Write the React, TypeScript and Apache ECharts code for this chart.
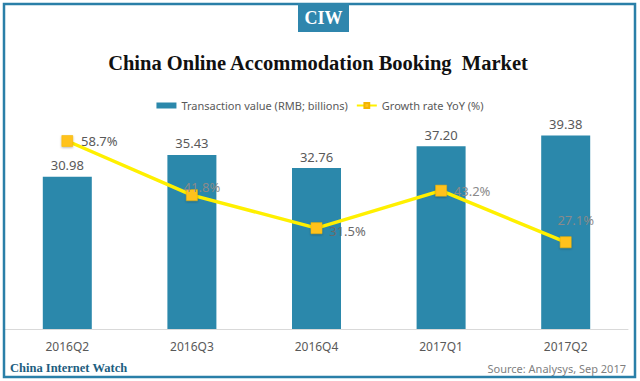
import React, { useEffect, useRef } from "react";
import * as echarts from "echarts";

const categories = ["2016Q2", "2016Q3", "2016Q4", "2017Q1", "2017Q2"];
const transactionValues = [30.98, 35.43, 32.76, 37.2, 39.38];
const growthRates = [58.7, 41.8, 31.5, 43.2, 27.1];
const growthLabelOffsets: [number, number][] = [
  [32, 0],
  [10, -8],
  [31, 3],
  [31, 0],
  [10, -22],
];
const growthLabelColors = ["#595959", "#8a8a8a", "#6a6a6a", "#8a8a8a", "#8a8a8a"];

const TITLE = "China Online Accommodation Booking  Market";
const BAR_NAME = "Transaction value (RMB; billions)";
const LINE_NAME = "Growth rate YoY (%)";

export default function App() {
  const ref = useRef<HTMLDivElement>(null);
  useEffect(() => {
    if (!ref.current) return;
    const chart = echarts.init(ref.current, null, { renderer: "svg" });
    const sans = "'Noto Sans', 'DejaVu Sans', sans-serif";
    const serif = "'Liberation Serif', 'DejaVu Serif', serif";
    chart.setOption({
      animation: false,
      backgroundColor: "#ffffff",
      textStyle: { fontFamily: sans },
      legend: {
        top: 95,
        left: "center",
        itemGap: 8,
        itemWidth: 20,
        itemHeight: 6,
        textStyle: { color: "#595959", fontSize: 11, fontFamily: sans },
        data: [
          { name: BAR_NAME, icon: "rect" },
          { name: LINE_NAME },
        ],
      },
      grid: { left: 5, right: 12, top: 108, bottom: 52, containLabel: false },
      xAxis: {
        type: "category",
        data: categories,
        axisLine: { lineStyle: { color: "#d9d9d9", width: 1 } },
        axisTick: { show: false },
        axisLabel: { color: "#595959", fontSize: 12, margin: 11, fontFamily: sans },
      },
      yAxis: [
        { type: "value", min: 0, max: 45, show: false, splitLine: { show: false } },
        { type: "value", min: 0, max: 69, show: false, splitLine: { show: false } },
      ],
      series: [
        {
          name: BAR_NAME,
          type: "bar",
          yAxisIndex: 0,
          data: transactionValues,
          barWidth: 49,
          itemStyle: { color: "#2b88ab" },
          label: {
            show: true,
            position: "top",
            distance: 5,
            color: "#595959",
            fontSize: 13,
            fontFamily: sans,
            formatter: (p: any) => p.value.toFixed(2),
          },
        },
        {
          name: LINE_NAME,
          type: "line",
          yAxisIndex: 1,
          data: growthRates.map((v, i) => ({
            value: v,
            label: {
              show: true,
              position: "inside",
              offset: growthLabelOffsets[i],
              color: growthLabelColors[i],
              fontSize: 13,
              fontFamily: sans,
              formatter: (p: any) => p.value.toFixed(1) + "%",
            },
          })),
          symbol: "rect",
          symbolSize: 11,
          lineStyle: { color: "#fff000", width: 3.5 },
          itemStyle: {
            color: "#ffc21a",
            borderColor: "#f2b400",
            borderWidth: 0.5,
            shadowColor: "rgba(0,0,0,0.3)",
            shadowBlur: 2,
            shadowOffsetY: 1,
          },
          emphasis: { disabled: true },
          z: 5,
        },
      ],
      graphic: [
        {
          type: "rect",
          shape: { x: 4, y: 4, width: 631, height: 373 },
          style: { fill: "none", stroke: "#2a7fa8", lineWidth: 2.5 },
          z: 10,
        },
        {
          type: "rect",
          shape: { x: 298, y: 3, width: 51, height: 29 },
          style: { fill: "#2f86ad" },
          z: 11,
        },
        {
          type: "text",
          x: 323.5,
          y: 18,
          style: {
            text: "CIW",
            fill: "#ffffff",
            font: `bold 18px ${serif}`,
            align: "center",
            verticalAlign: "middle",
          },
          z: 12,
        },
        {
          type: "text",
          x: 318,
          y: 63,
          style: {
            text: TITLE,
            fill: "#111111",
            font: `bold 20.5px ${serif}`,
            align: "center",
            verticalAlign: "middle",
          },
        },
        {
          type: "text",
          x: 10,
          y: 368,
          style: {
            text: "China Internet Watch",
            fill: "#1d5e80",
            font: `bold 12.5px ${serif}`,
            align: "left",
            verticalAlign: "middle",
          },
        },
        {
          type: "text",
          x: 626,
          y: 368,
          style: {
            text: "Source: Analysys, Sep 2017",
            fill: "#7f7f7f",
            font: `11px ${sans}`,
            align: "right",
            verticalAlign: "middle",
          },
        },
      ],
    });
    return () => chart.dispose();
  }, []);
  return <div ref={ref} style={{ width: 640, height: 381, position: "absolute", left: 0, top: 0 }} />;
}
